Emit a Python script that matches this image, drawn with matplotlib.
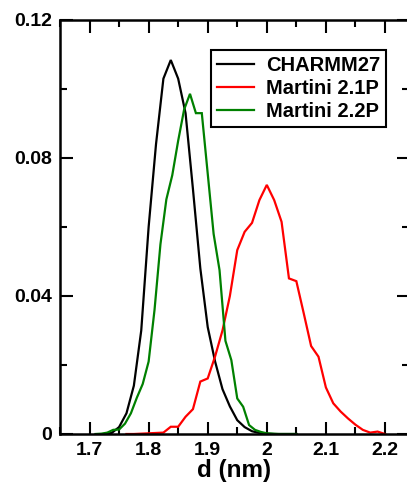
import matplotlib
matplotlib.use("Agg")
import matplotlib.pyplot as plt
from matplotlib.ticker import MultipleLocator

# CHARMM27 (black) and Martini 2.1P (red) share a 0.0125 nm grid
d_charmm = [1.7250, 1.7375, 1.7500, 1.7625, 1.7750, 1.7875, 1.8000, 1.8125, 1.8250,
            1.8375, 1.8500, 1.8625, 1.8750, 1.8875, 1.9000, 1.9125, 1.9250, 1.9375,
            1.9500, 1.9625, 1.9750, 1.9875, 2.0000, 2.0125, 2.0250, 2.0375, 2.0500]
p_charmm = [0.0000, 0.0003, 0.0020, 0.0060, 0.0140, 0.0300, 0.0600, 0.0840, 0.1030,
            0.1084, 0.1030, 0.0930, 0.0710, 0.0480, 0.0310, 0.0210, 0.0130, 0.0080,
            0.0040, 0.0020, 0.0008, 0.0003, 0.0001, 0.0000, 0.0000, 0.0000, 0.0000]

d_m21 = [1.7625, 1.7750, 1.7875, 1.8000, 1.8125, 1.8250, 1.8375, 1.8500, 1.8625,
         1.8750, 1.8875, 1.9000, 1.9125, 1.9250, 1.9375, 1.9500, 1.9625, 1.9750,
         1.9875, 2.0000, 2.0125, 2.0250, 2.0375, 2.0500, 2.0625, 2.0750, 2.0875,
         2.1000, 2.1125, 2.1250, 2.1375, 2.1500, 2.1625, 2.1750, 2.1875, 2.2000]
p_m21 = [0.0000, 0.0000, 0.0001, 0.0002, 0.0003, 0.0004, 0.0021, 0.0021, 0.0050,
         0.0072, 0.0152, 0.0161, 0.0225, 0.0300, 0.0400, 0.0533, 0.0586, 0.0612,
         0.0678, 0.0722, 0.0678, 0.0615, 0.0451, 0.0443, 0.0350, 0.0255, 0.0224,
         0.0135, 0.0089, 0.0065, 0.0045, 0.0027, 0.0012, 0.0004, 0.0007, 0.0000]

# Martini 2.2P (green) on a 0.01 nm grid
d_m22 = [1.71, 1.72, 1.73, 1.74, 1.75, 1.76, 1.77, 1.78, 1.79, 1.80, 1.81, 1.82,
         1.83, 1.84, 1.85, 1.86, 1.87, 1.88, 1.89, 1.90, 1.91, 1.92, 1.93, 1.94,
         1.95, 1.96, 1.97, 1.98, 1.99, 2.00, 2.01, 2.02, 2.03, 2.04, 2.05]
p_m22 = [0.0000, 0.0001, 0.0004, 0.0012, 0.0013, 0.0030, 0.0060, 0.0105, 0.0145,
         0.0210, 0.0360, 0.0550, 0.0680, 0.0750, 0.0850, 0.0940, 0.0986, 0.0930,
         0.0930, 0.0755, 0.0580, 0.0475, 0.0270, 0.0214, 0.0103, 0.0079, 0.0026,
         0.0012, 0.0006, 0.0002, 0.0001, 0.0000, 0.0000, 0.0000, 0.0000]

series_labels = ["CHARMM27", "Martini 2.1P", "Martini 2.2P"]
series_colors = ["black", "red", "#008000"]
x_ticks = [1.7, 1.8, 1.9, 2.0, 2.1, 2.2]
x_ticklabels = ["1.7", "1.8", "1.9", "2", "2.1", "2.2"]
y_ticks = [0, 0.04, 0.08, 0.12]
y_ticklabels = ["0", "0.04", "0.08", "0.12"]

plt.rcParams['font.family'] = ['Liberation Sans', 'DejaVu Sans']
plt.rcParams['font.weight'] = 'bold'

W, H = 407, 484
fig = plt.figure(figsize=(W / 100, H / 100), dpi=100)
left_px, right_px, top_px, bot_px = 60, 408.6, 20, 434
ax = fig.add_axes([left_px / W, 1 - bot_px / H, (right_px - left_px) / W, (bot_px - top_px) / H])

for d, p, lab, c in zip([d_charmm, d_m21, d_m22], [p_charmm, p_m21, p_m22], series_labels, series_colors):
    ax.plot(d, p, color=c, lw=1.6, label=lab, solid_joinstyle='miter')

ax.set_xlim(1.65, 2.24)
ax.set_ylim(0, 0.12)
ax.set_xticks(x_ticks)
ax.set_xticklabels(x_ticklabels)
ax.set_yticks(y_ticks)
ax.set_yticklabels(y_ticklabels)
ax.xaxis.set_minor_locator(MultipleLocator(0.05))
ax.yaxis.set_minor_locator(MultipleLocator(0.02))
ax.tick_params(which='both', direction='in', top=True, right=True, width=1.5, labelsize=14, pad=6)
ax.tick_params(which='major', length=9)
ax.tick_params(which='minor', length=5)
for lbl in ax.get_xticklabels() + ax.get_yticklabels():
    lbl.set_fontweight('bold')
for s in ax.spines.values():
    s.set_linewidth(1.8)

ax.set_xlabel("d (nm)", fontsize=17.5, fontweight='bold', labelpad=0)

leg = ax.legend(loc='upper right', bbox_to_anchor=(0.935, 0.9275), borderaxespad=0,
                fancybox=False, framealpha=1, edgecolor='black', handlelength=1.8,
                handletextpad=0.6, labelspacing=0.2, borderpad=0.3,
                prop={'size': 14.5, 'weight': 'bold'})
leg.get_frame().set_linewidth(1.5)

fig.savefig("out.png", dpi=100)
